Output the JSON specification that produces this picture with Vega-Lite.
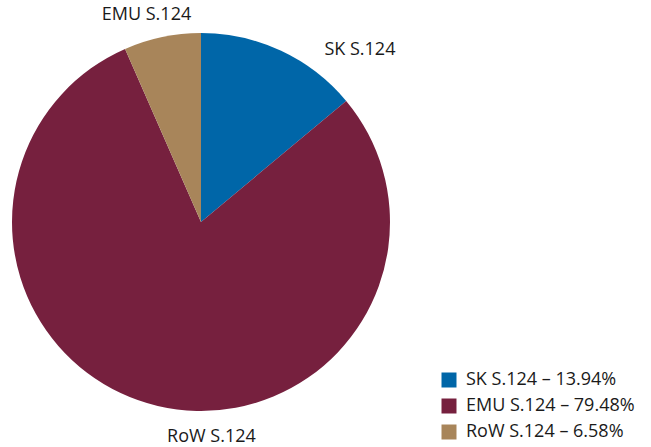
{
  "$schema": "https://vega.github.io/schema/vega-lite/v6.json",
  "width": 402,
  "height": 444,
  "padding": 0,
  "background": "white",
  "view": {"stroke": null},
  "data": {
    "values": [
      {"name": "SK S.124", "label": "SK S.124", "legend": "SK S.124 – 13.94%", "value": 13.94, "ord": 1},
      {"name": "EMU S.124", "label": "RoW S.124", "legend": "EMU S.124 – 79.48%", "value": 79.48, "ord": 2},
      {"name": "RoW S.124", "label": "EMU S.124", "legend": "RoW S.124 – 6.58%", "value": 6.58, "ord": 3}
    ]
  },
  "encoding": {
    "theta": {"field": "value", "type": "quantitative", "stack": true},
    "order": {"field": "ord", "type": "quantitative"}
  },
  "layer": [
    {
      "mark": {"type": "arc", "outerRadius": 189},
      "encoding": {
        "color": {
          "field": "legend",
          "type": "nominal",
          "scale": {
            "domain": ["SK S.124 – 13.94%", "EMU S.124 – 79.48%", "RoW S.124 – 6.58%"],
            "range": ["#0066A8", "#76203E", "#A8855A"]
          },
          "legend": {
            "title": null,
            "orient": "none",
            "legendX": 440,
            "legendY": 371,
            "symbolType": "square",
            "symbolSize": 225,
            "symbolStrokeWidth": 0,
            "labelFont": "Open Sans",
            "labelFontSize": 18,
            "labelColor": "#1a1a1a",
            "rowPadding": 8,
            "labelOffset": 8,
            "labelLimit": 300
          }
        }
      }
    },
    {
      "mark": {"type": "text", "radius": 212, "dx": -11, "font": "Open Sans", "fontSize": 18, "color": "#1a1a1a"},
      "encoding": {
        "text": {"field": "label"},
        "opacity": {"condition": {"test": "datum.ord == 3", "value": 1}, "value": 0}
      }
    },
    {
      "mark": {"type": "text", "radius": 212, "dx": 59, "dy": 9, "font": "Open Sans", "fontSize": 18, "color": "#1a1a1a"},
      "encoding": {
        "text": {"field": "label"},
        "opacity": {"condition": {"test": "datum.ord == 2", "value": 1}, "value": 0}
      }
    },
    {
      "mark": {"type": "text", "radius": 212, "dx": 69, "dy": 20, "font": "Open Sans", "fontSize": 18, "color": "#1a1a1a"},
      "encoding": {
        "text": {"field": "label"},
        "opacity": {"condition": {"test": "datum.ord == 1", "value": 1}, "value": 0}
      }
    }
  ]
}
